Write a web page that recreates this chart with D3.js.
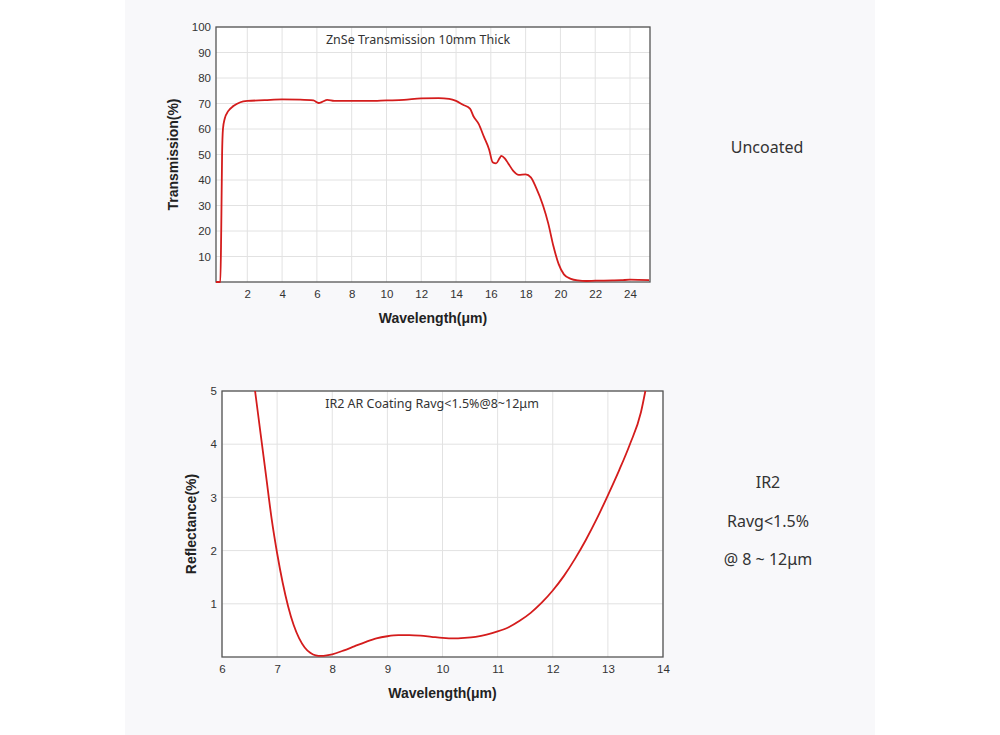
<!DOCTYPE html>
<html><head><meta charset="utf-8">
<script src="https://cdn.jsdelivr.net/npm/d3@7"></script>
<style>
body{margin:0;background:#fff;font-family:"Noto Sans",sans-serif;}
#panel{position:absolute;left:125px;top:0;width:750px;height:735px;background:#f8f8fa;}
</style></head><body>
<div id="panel"></div>
<svg id="chart" width="1000" height="735" style="position:absolute;left:0;top:0"></svg>
<script>
// Transmission (ZnSe 10mm)
const transWl = [0.2,0.45,0.5,0.55,0.6,0.7,0.9,1.2,1.6,2,3,4,5,5.8,6.1,6.3,6.6,7,8,9,10,11,12,13,13.6,14,14.4,14.8,15,15.3,15.6,15.9,16.1,16.3,16.5,16.6,16.8,17,17.3,17.6,18,18.3,18.6,19,19.3,19.6,19.9,20.2,20.6,21,21.5,22,23,23.5,24,25.1];
const transVal = [0,0,20,50,60,64,67,69,70.5,71,71.3,71.6,71.5,71.2,70.2,70.6,71.4,71,71,71,71.2,71.4,72,72.1,71.8,71,69.5,68,65,62,57,52,47,46.5,48.5,49.5,48.5,46.5,43.5,42,42.2,41,37,30,23,14,7,3,1.2,0.6,0.4,0.5,0.6,0.7,0.9,0.7];
// Reflectance (IR2 AR coating)
const reflWl = [6.6,6.7,6.8,6.9,7,7.1,7.2,7.3,7.4,7.5,7.6,7.7,7.8,7.9,8,8.2,8.4,8.6,8.8,9,9.2,9.4,9.6,9.8,10,10.2,10.4,10.6,10.8,11,11.2,11.4,11.6,11.8,12,12.2,12.4,12.6,12.8,13,13.2,13.4,13.6,13.68];
const reflVal = [5,4.2,3.4,2.6,1.95,1.4,0.95,0.6,0.35,0.18,0.08,0.03,0.02,0.03,0.05,0.12,0.2,0.28,0.35,0.39,0.41,0.41,0.4,0.38,0.36,0.35,0.36,0.38,0.42,0.48,0.56,0.68,0.83,1.02,1.25,1.52,1.84,2.2,2.6,3.04,3.5,4.0,4.6,5];

const transTicksX = [2,4,6,8,10,12,14,16,18,20,22,24];
const transTicksY = [10,20,30,40,50,60,70,80,90,100];
const reflTicksX = [6,7,8,9,10,11,12,13,14];
const reflTicksY = [1,2,3,4,5];

const sideText1 = ["Uncoated"];
const sideText2 = ["IR2","Ravg<1.5%","@ 8 ~ 12μm"];

const svg = d3.select("#chart");

function panel(cfg){
  const x = d3.scaleLinear().domain(cfg.xd).range([cfg.l, cfg.r]);
  const y = d3.scaleLinear().domain(cfg.yd).range([cfg.b, cfg.t]);
  const g = svg.append("g");
  g.append("rect").attr("x",cfg.l).attr("y",cfg.t).attr("width",cfg.r-cfg.l).attr("height",cfg.b-cfg.t).attr("fill","#fff");
  // grid
  g.selectAll(".gx").data(cfg.gx).join("line")
    .attr("x1",d=>x(d)).attr("x2",d=>x(d)).attr("y1",cfg.t).attr("y2",cfg.b)
    .attr("stroke","#e2e2e2");
  g.selectAll(".gy").data(cfg.ty).join("line")
    .attr("y1",d=>y(d)).attr("y2",d=>y(d)).attr("x1",cfg.l).attr("x2",cfg.r)
    .attr("stroke","#e2e2e2");
  g.append("rect").attr("x",cfg.l).attr("y",cfg.t).attr("width",cfg.r-cfg.l).attr("height",cfg.b-cfg.t)
    .attr("fill","none").attr("stroke","#555").attr("stroke-width",1.3);
  g.append("g").attr("transform",`translate(0,${cfg.b})`)
    .call(d3.axisBottom(x).tickValues(cfg.tx).tickFormat(d3.format("d")).tickSize(0).tickPadding(8))
    .call(a=>a.select(".domain").remove())
    .selectAll("text").attr("font-size",11.5).attr("fill","#333").attr("font-family","Liberation Sans, Arial");
  g.append("g").attr("transform",`translate(${cfg.l},0)`)
    .call(d3.axisLeft(y).tickValues(cfg.ty).tickFormat(d3.format("d")).tickSize(0).tickPadding(5))
    .call(a=>a.select(".domain").remove())
    .selectAll("text").attr("font-size",11.5).attr("fill","#333").attr("font-family","Liberation Sans, Arial");
  const line = d3.line().x(d=>x(d[0])).y(d=>y(d[1])).curve(d3.curveMonotoneX);
  g.append("path").datum(d3.zip(cfg.xs,cfg.ys)).attr("d",line)
    .attr("fill","none").attr("stroke","#d41c1c").attr("stroke-width",1.8);
  g.append("text").attr("x",cfg.titleX).attr("y",cfg.t+17).attr("text-anchor","middle")
    .attr("font-size",12.5).attr("fill","#333").text(cfg.title);
  g.append("text").attr("x",(cfg.l+cfg.r)/2).attr("y",cfg.b+41).attr("text-anchor","middle")
    .attr("font-size",14).attr("font-weight","bold").attr("fill","#222")
    .attr("font-family","Liberation Sans, Arial").text("Wavelength(μm)");
  g.append("text").attr("transform",`translate(${cfg.yl},${(cfg.t+cfg.b)/2}) rotate(-90)`)
    .attr("text-anchor","middle").attr("font-size",14).attr("font-weight","bold").attr("fill","#222")
    .attr("font-family","Liberation Sans, Arial").text(cfg.ylabel);
}

panel({l:216,r:650,t:27,b:282,xd:[0.2,25.15],yd:[0,100],gx:transTicksX,tx:transTicksX,ty:transTicksY,
  xs:transWl,ys:transVal,title:"ZnSe Transmission 10mm Thick",titleX:418,ylabel:"Transmission(%)",yl:178});
panel({l:222,r:663,t:391,b:657,xd:[6,14],yd:[0,5],gx:reflTicksX,tx:reflTicksX,ty:reflTicksY,
  xs:reflWl,ys:reflVal,title:"IR2 AR Coating Ravg<1.5%@8~12μm",titleX:432,ylabel:"Reflectance(%)",yl:196});

svg.selectAll(".s1").data(sideText1).join("text").attr("x",767).attr("y",153)
  .attr("text-anchor","middle").attr("font-size",16).attr("fill","#333").text(d=>d);
svg.selectAll(".s2").data(sideText2).join("text").attr("x",768).attr("y",(d,i)=>488+i*38.5)
  .attr("text-anchor","middle").attr("font-size",16).attr("fill","#333").text(d=>d);
</script></body></html>
